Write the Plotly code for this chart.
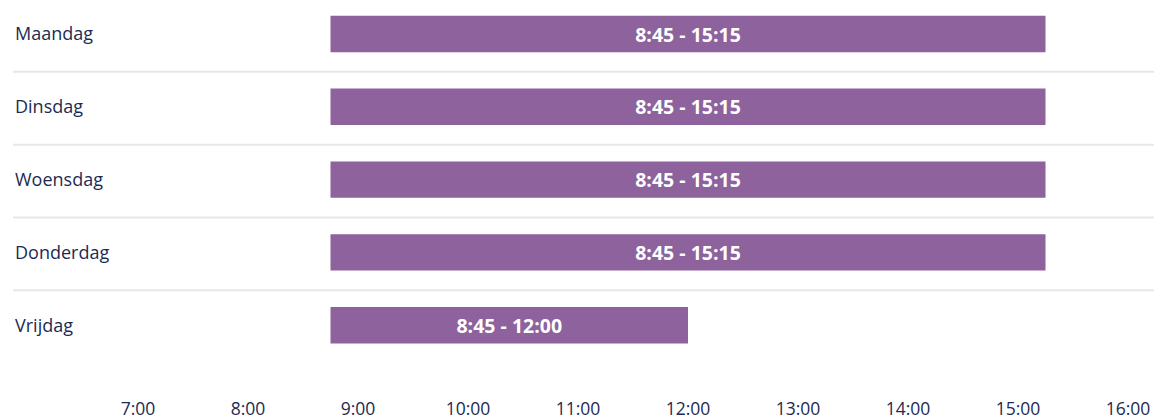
import plotly.graph_objects as go

days = ["Maandag", "Dinsdag", "Woensdag", "Donderdag", "Vrijdag"]
start_hours = [8.75, 8.75, 8.75, 8.75, 8.75]
end_hours = [15.25, 15.25, 15.25, 15.25, 12.0]
bar_labels = ["8:45 - 15:15", "8:45 - 15:15", "8:45 - 15:15", "8:45 - 15:15", "8:45 - 12:00"]
tick_hours = [7, 8, 9, 10, 11, 12, 13, 14, 15, 16]
tick_labels = ["7:00", "8:00", "9:00", "10:00", "11:00", "12:00", "13:00", "14:00", "15:00", "16:00"]

BAR = "#8d629d"
TXT = "#1c2b52"
FONT = "Open Sans"

W, H = 1154, 417
fig = go.Figure()
fig.add_trace(go.Bar(
    y=days,
    x=[e - s for s, e in zip(start_hours, end_hours)],
    base=start_hours,
    orientation="h",
    width=0.5,
    marker=dict(color=BAR, line=dict(width=0)),
    text=bar_labels,
    textposition="inside",
    insidetextanchor="middle",
    textfont=dict(color="white", size=19.5, family=FONT, weight="bold"),
    hoverinfo="skip",
))

# separators between rows
for i in range(len(days) - 1):
    fig.add_shape(type="line", xref="paper", yref="y",
                  x0=13 / W, x1=1.0, y0=i + 0.52, y1=i + 0.52,
                  line=dict(color="#e7e7eb", width=2), layer="below")

px_per_h = 110
x0_px = 138
bottom_px = 396
row_px = 72.8
first_px = 34.0
fig.update_layout(
    width=W, height=H,
    margin=dict(l=0, r=0, t=0, b=H - bottom_px, pad=0, autoexpand=False),
    plot_bgcolor="white", paper_bgcolor="white",
    showlegend=False,
    bargap=0.5,
    font=dict(family=FONT, color=TXT),
    xaxis=dict(
        range=[7 - x0_px / px_per_h, 7 + (W - x0_px) / px_per_h],
        tickvals=tick_hours, ticktext=tick_labels,
        showgrid=False, zeroline=False, showline=False, automargin=False,
        ticks="", tickfont=dict(size=17.5, color=TXT, family=FONT),
        fixedrange=True,
    ),
    yaxis=dict(
        type="category",
        categoryorder="array", categoryarray=days,
        range=[(bottom_px - first_px) / row_px, -first_px / row_px],
        showgrid=False, zeroline=False, showline=False, automargin=False,
        ticks="", ticklabelposition="inside", ticklabelstandoff=12,
        tickfont=dict(size=18, color=TXT, family=FONT),
        fixedrange=True,
    ),
)

fig.write_html("out.html", config={"displayModeBar": False},
               post_script="document.body.style.margin='0';document.body.style.overflow='hidden';")
